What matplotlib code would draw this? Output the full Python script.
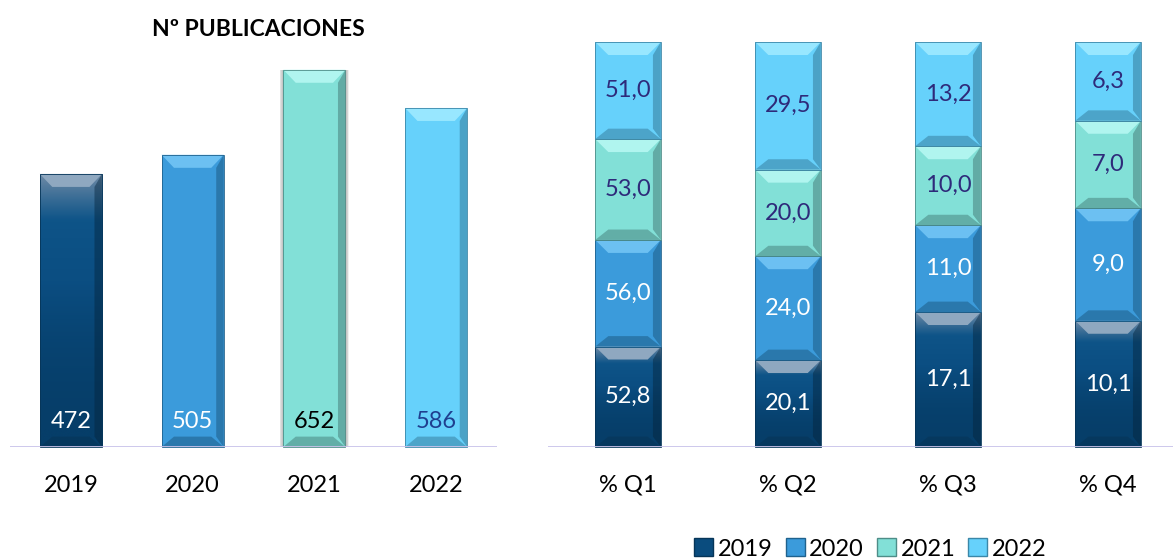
import matplotlib
matplotlib.use('Agg')
import matplotlib.pyplot as plt
from matplotlib.patches import Polygon, Patch, Rectangle
from matplotlib.colors import LinearSegmentedColormap
import numpy as np

# data
years = ['2019', '2020', '2021', '2022']
publicaciones = [472, 505, 652, 586]

quartiles = ['% Q1', '% Q2', '% Q3', '% Q4']
q_2019 = [52.8, 20.1, 17.1, 10.1]
q_2020 = [56.0, 24.0, 11.0, 9.0]
q_2021 = [53.0, 20.0, 10.0, 7.0]
q_2022 = [51.0, 29.5, 13.2, 6.3]

# styles per year: body, light bevel, dark bevel, side shade, label colour
styles = {
    '2019': dict(body='#0a4c7e', light='#8fa8c0', dark='#063558', side='#04243c', txt='white'),
    '2020': dict(body='#3b9bdb', light='#6cc0f2', dark='#1f628e', side='#174e73', txt='white'),
    '2021': dict(body='#82e0d7', light='#b0f5ef', dark='#4e8d88', side='#3b6c69', txt='#2e2a7a'),
    '2022': dict(body='#66d1fb', light='#98e7ff', dark='#3b87a8', side='#2b6986', txt='#2e2a7a'),
}
grad_2019 = LinearSegmentedColormap.from_list('g19', ['#063e69', '#0b4e82', '#0e5488', '#6e8aa6'])

plt.rcParams['font.family'] = ['Lato', 'DejaVu Sans']

fig = plt.figure(figsize=(11.73, 5.59), dpi=100)
ax1 = fig.add_axes([10/1173, 1-447/559, 487/1173, 405/559])
ax2 = fig.add_axes([548/1173, 1-447/559, 625/1173, 405/559])


def bevel(ax, rect, st, px=13):
    x0, y0 = rect.get_x(), rect.get_y()
    w, h = rect.get_width(), rect.get_height()
    ylo, yhi = ax.get_ylim()
    dy = px * (yhi - ylo) / ax.get_window_extent().height
    dy = min(dy, h / 3)
    dx = w * 0.2
    ds = w * 0.12
    top = [(x0, y0+h), (x0+w, y0+h), (x0+w-dx, y0+h-dy), (x0+dx, y0+h-dy)]
    bot = [(x0, y0), (x0+w, y0), (x0+w-dx, y0+dy*0.8), (x0+dx, y0+dy*0.8)]
    right = [(x0+w, y0), (x0+w, y0+h), (x0+w-ds, y0+h-dy), (x0+w-ds, y0+dy*0.8)]
    ax.add_patch(Polygon(right, closed=True, fc=st['side'], ec='none', alpha=0.45, zorder=4, clip_on=False))
    ax.add_patch(Polygon(top, closed=True, fc=st['light'], ec='none', zorder=5, clip_on=False))
    ax.add_patch(Polygon(bot, closed=True, fc=st['dark'], ec='none', alpha=0.6, zorder=5, clip_on=False))
    ax.add_patch(Rectangle((x0, y0), w, h, fc='none', ec=st['dark'], lw=0.6, zorder=6, clip_on=False))


def gradient(ax, rect):
    x0, y0 = rect.get_x(), rect.get_y()
    w, h = rect.get_width(), rect.get_height()
    g = np.linspace(0, 1, 100).reshape(-1, 1) ** 2.2
    im = ax.imshow(g, cmap=grad_2019, extent=[x0, x0+w, y0, y0+h], origin='lower',
                   aspect='auto', zorder=3, interpolation='bicubic')
    im.set_clip_path(rect)


# ---- left panel: number of publications
ax1.set_xlim(-0.5, 3.5)
ax1.set_ylim(0, 700)
x1 = np.arange(len(years))
for i, yr in enumerate(years):
    st = styles[yr]
    bars = ax1.bar(x1[i], publicaciones[i], width=0.51, color=st['body'], zorder=2)
    rect = bars.patches[0]
    if yr == '2021':
        for k in range(1, 6):
            ax1.add_patch(Rectangle((rect.get_x() - 0.006*k, -4*k), rect.get_width() + 0.012*k,
                                    rect.get_height() + 4*k, fc='black', ec='none', alpha=0.06, zorder=1))
    if yr == '2019':
        gradient(ax1, rect)
    bevel(ax1, rect, st)
    lab_col = {'2019': 'white', '2020': 'white', '2021': 'black', '2022': '#1f3f8f'}[yr]
    ax1.annotate(str(publicaciones[i]), (x1[i], 0), xytext=(0, 18), textcoords='offset points',
                 ha='center', va='center', fontsize=17, color=lab_col, zorder=7)

ax1.axhline(0, color='#c9c3ea', lw=2, zorder=8)
ax1.set_xticks(x1)
ax1.set_xticklabels(years, fontsize=17)
ax1.set_yticks([])
ax1.tick_params(axis='x', length=0, pad=20)
for s in ax1.spines.values():
    s.set_visible(False)
ax1.patch.set_alpha(0)
fig.text(258/1173, 1-30/559, 'Nº PUBLICACIONES', fontsize=16.5, fontweight='bold',
         ha='center', va='center')

# ---- right panel: share per quartile (100% stacked)
series = [q_2019, q_2020, q_2021, q_2022]
totals = np.sum(series, axis=0)
ax2.set_xlim(-0.5, 3.406)
ax2.set_ylim(0, 1)
x2 = np.arange(len(quartiles))
bottom = np.zeros(len(quartiles))
for yr, vals in zip(years, series):
    st = styles[yr]
    frac = np.array(vals) / totals
    bars = ax2.bar(x2, frac, bottom=bottom, width=0.41, color=st['body'], zorder=2)
    for j, rect in enumerate(bars.patches):
        if yr == '2019':
            gradient(ax2, rect)
        bevel(ax2, rect, st)
        ax2.text(x2[j], bottom[j] + frac[j] / 2, f'{vals[j]:.1f}'.replace('.', ','),
                 ha='center', va='center', fontsize=17, color=st['txt'], zorder=7)
    bottom += frac

ax2.axhline(0, color='#c9c3ea', lw=2, zorder=8)
ax2.set_xticks(x2)
ax2.set_xticklabels(quartiles, fontsize=17)
ax2.set_yticks([])
ax2.tick_params(axis='x', length=0, pad=20)
for s in ax2.spines.values():
    s.set_visible(False)
ax2.patch.set_alpha(0)

handles = [Patch(facecolor=styles[y]['body'], edgecolor=styles[y]['dark']) for y in years]
fig.legend(handles, years, loc='center', bbox_to_anchor=(0.742, 0.018), ncol=4, frameon=False,
           fontsize=17, handlelength=0.8, handleheight=0.8, handletextpad=0.2, columnspacing=0.55)

fig.savefig('out.png', dpi=100)
